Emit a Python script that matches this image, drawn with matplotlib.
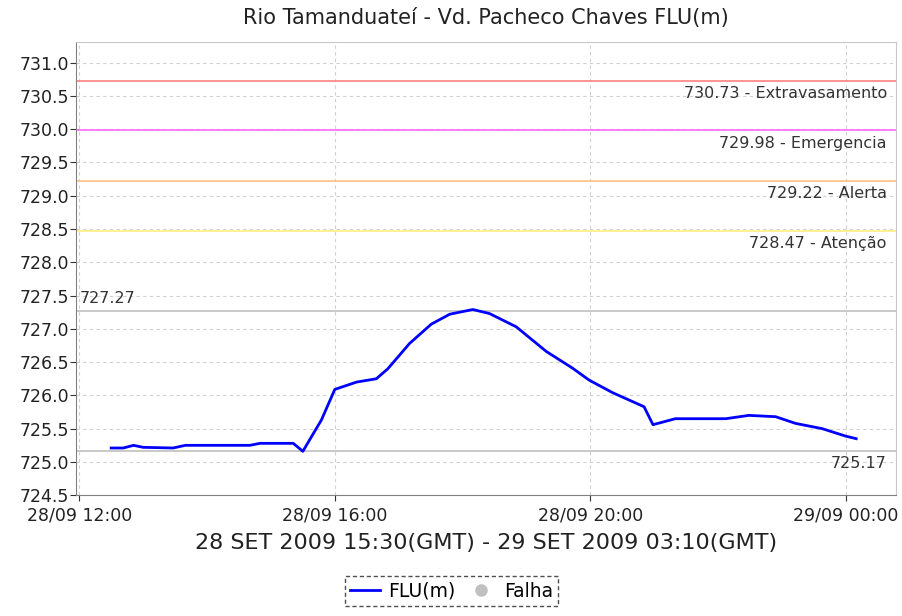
from datetime import datetime, timedelta
import matplotlib
matplotlib.use("Agg")
import matplotlib.pyplot as plt
import matplotlib.dates as mdates
from matplotlib.lines import Line2D

# horas a partir de 28/09 00:00
horas = [12.5, 12.69, 12.85, 13.0, 13.47, 13.66, 14.67, 14.83, 15.35, 15.5,
         15.66, 15.79, 16.0, 16.34, 16.65, 16.83, 17.17, 17.51, 17.8, 18.16,
         18.42, 18.84, 19.31, 19.72, 19.98, 20.35, 20.84, 20.98, 21.33, 22.12,
         22.48, 22.9, 23.21, 23.63, 23.99, 24.16]
flu = [725.21, 725.21, 725.25, 725.22, 725.21, 725.25, 725.25, 725.28, 725.28, 725.16,
       725.42, 725.63, 726.09, 726.20, 726.25, 726.40, 726.78, 727.07, 727.22, 727.29,
       727.23, 727.03, 726.66, 726.41, 726.23, 726.04, 725.83, 725.56, 725.65, 725.65,
       725.70, 725.68, 725.58, 725.50, 725.39, 725.35]

niveis = [730.73, 729.98, 729.22, 728.47]
nomes = ["Extravasamento", "Emergencia", "Alerta", "Atenção"]
cores = ["#ff8080", "#ff66ff", "#ffc080", "#ffee80"]
vmax = 727.27
vmin = 725.17

base = datetime(2009, 9, 28)
t = [base + timedelta(hours=h) for h in horas]

fig = plt.figure(figsize=(9.03, 6.16), dpi=100)
ax = fig.add_axes([0.0842, 0.196, 0.9078, 0.736])

for v, c in zip(niveis, cores):
    ax.axhline(v, color=c, lw=1.2, zorder=2)
for v, n in zip(niveis, nomes):
    ax.text(0.989, v - 0.08, "%.2f - %s" % (v, n), transform=ax.get_yaxis_transform(),
            ha="right", va="top", fontsize=11.5, color="#333333")

ax.axhline(vmax, color="#c0c0c0", lw=1.2, zorder=2)
ax.axhline(vmin, color="#c0c0c0", lw=1.2, zorder=2)
ax.text(0.005, vmax + 0.08, "%.2f" % vmax, transform=ax.get_yaxis_transform(),
        ha="left", va="bottom", fontsize=11.5, color="#333333")
ax.text(0.989, vmin - 0.08, "%.2f" % vmin, transform=ax.get_yaxis_transform(),
        ha="right", va="top", fontsize=11.5, color="#333333")

ax.plot(t, flu, color="#0000ff", lw=2, zorder=3)

ax.set_ylim(724.5, 731.31)
ax.set_yticks([724.5 + 0.5 * i for i in range(14)])
ax.yaxis.set_major_formatter(matplotlib.ticker.FormatStrFormatter("%.1f"))
ax.set_xlim(base + timedelta(hours=11.95), base + timedelta(hours=24.78))
ax.xaxis.set_major_locator(mdates.HourLocator(byhour=[0, 4, 8, 12, 16, 20]))
ax.xaxis.set_major_formatter(mdates.DateFormatter("%d/%m %H:%M"))

ax.grid(True, color="#d0d0d0", ls=(0, (3, 3)), lw=0.8)
for s in ax.spines.values():
    s.set_color("#c8c8c8")
ax.spines["bottom"].set_color("#808080")
ax.spines["left"].set_color("#808080")
ax.tick_params(labelsize=12.5, colors="#333333", length=4)
ax.tick_params(axis="y", pad=1)
ax.tick_params(axis="x", pad=4)
ax.tick_params(axis="both", labelcolor="#222222")

ax.set_title("Rio Tamanduateí - Vd. Pacheco Chaves FLU(m)", fontsize=15, color="#222222", pad=13)
ax.set_xlabel("28 SET 2009 15:30(GMT) - 29 SET 2009 03:10(GMT)", fontsize=16,
              color="#222222", labelpad=6)

handles = [Line2D([], [], color="#0000ff", lw=2),
           Line2D([], [], color="#c0c0c0", marker="o", ls="", markersize=8)]
leg = fig.legend(handles, ["FLU(m)", "Falha"], loc="center", bbox_to_anchor=(0.5, 0.04),
                 ncol=2, fontsize=13.5, frameon=True, fancybox=False, handlelength=1.6,
                 handletextpad=0.4, columnspacing=0.6, borderpad=0.3)
leg.get_frame().set_edgecolor("#222222")
leg.get_frame().set_linestyle((0, (3, 2)))
leg.get_frame().set_linewidth(1.0)

fig.savefig("out.png", dpi=100)
